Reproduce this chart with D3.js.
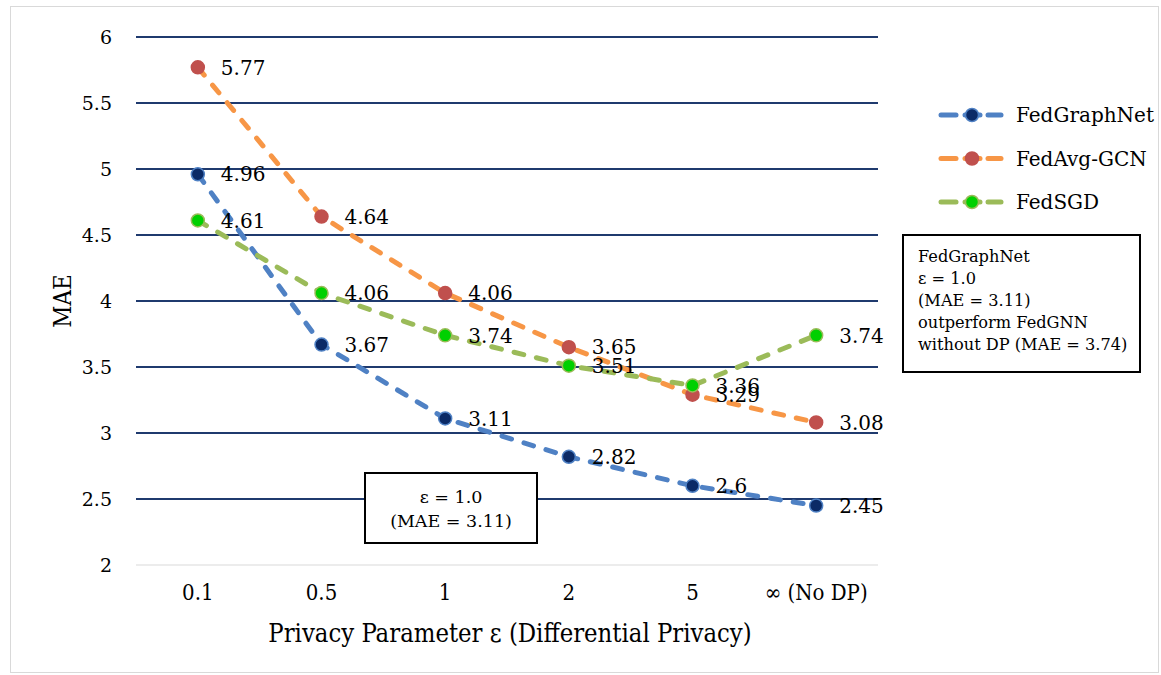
<!DOCTYPE html>
<html>
<head>
<meta charset="utf-8">
<script src="https://cdn.jsdelivr.net/npm/d3@7"></script>
<style>
  html, body { margin: 0; padding: 0; background: #fff; }
  svg { display: block; }
  text { font-family: "DejaVu Serif", Cambria, serif; fill: #000; }
</style>
</head>
<body>
<svg id="chart" width="1161" height="675"></svg>
<script>
// Categories along the x axis (privacy budget ε)
const categories = ["0.1", "0.5", "1", "2", "5", "∞ (No DP)"];

// MAE per model at each ε
const fedGraphNet = [4.96, 3.67, 3.11, 2.82, 2.6, 2.45];
const fedAvgGCN   = [5.77, 4.64, 4.06, 3.65, 3.29, 3.08];
const fedSGD      = [4.61, 4.06, 3.74, 3.51, 3.36, 3.74];

const seriesNames = ["FedGraphNet", "FedAvg-GCN", "FedSGD"];
const yTicks = [2, 2.5, 3, 3.5, 4, 4.5, 5, 5.5, 6];

const series = [
  { name: seriesNames[0], values: fedGraphNet, line: "#4f81c4", fill: "#0b2a66", stroke: "#4f81c4" },
  { name: seriesNames[1], values: fedAvgGCN,   line: "#f79646", fill: "#c0504d", stroke: "#c0504d" },
  { name: seriesNames[2], values: fedSGD,      line: "#9bbb59", fill: "#00d000", stroke: "#9bbb59" }
];

const condensed = "DejaVu Serif Condensed, DejaVu Serif";
const svg = d3.select("#chart");

// outer frame
svg.append("rect")
  .attr("x", 10.5).attr("y", 6.5).attr("width", 1148).attr("height", 666)
  .attr("fill", "#fff").attr("stroke", "#d9d9d9").attr("stroke-width", 1);

const plot = { left: 136, right: 878, top: 37, bottom: 565 };

const x = d3.scaleBand().domain(categories).range([plot.left, plot.right]);
const y = d3.scaleLinear().domain([2, 6]).range([plot.bottom, plot.top]);
const cx = c => x(c) + x.bandwidth() / 2;

// horizontal gridlines
const grid = svg.append("g");
grid.selectAll("line").data(yTicks.filter(t => t > 2)).join("line")
  .attr("x1", plot.left).attr("x2", plot.right)
  .attr("y1", d => y(d)).attr("y2", d => y(d))
  .attr("stroke", "#1f3a6e").attr("stroke-width", 2);
// baseline
grid.append("line")
  .attr("x1", plot.left).attr("x2", plot.right)
  .attr("y1", y(2)).attr("y2", y(2))
  .attr("stroke", "#d9d9d9").attr("stroke-width", 1);

// y axis labels
const yAxis = svg.append("g").attr("transform", `translate(${plot.left - 24},0)`)
  .call(d3.axisLeft(y).tickValues(yTicks).tickSize(0).tickPadding(0).tickFormat(d3.format("")));
yAxis.select(".domain").remove();
yAxis.selectAll("text").attr("font-size", 19).attr("font-family", "DejaVu Serif").attr("fill", "#000");

// x axis labels
const xAxis = svg.append("g").attr("transform", `translate(0,${plot.bottom + 19})`)
  .call(d3.axisBottom(x).tickSize(0).tickPadding(0));
xAxis.select(".domain").remove();
xAxis.selectAll("text").attr("font-size", 22).attr("font-family", condensed)
  .attr("font-stretch", "condensed").attr("fill", "#000").attr("dy", "0.71em");

// axis titles
svg.append("text")
  .attr("x", 510).attr("y", 642)
  .attr("text-anchor", "middle").attr("font-size", 25.4)
  .attr("font-family", condensed).attr("font-stretch", "condensed")
  .text("Privacy Parameter ε (Differential Privacy)");
svg.append("text")
  .attr("transform", `translate(71,${(plot.top + plot.bottom) / 2}) rotate(-90)`)
  .attr("text-anchor", "middle").attr("font-size", 24)
  .attr("font-family", condensed).attr("font-stretch", "condensed")
  .text("MAE");

// lines, markers and value labels
const line = d3.line().x((d, i) => cx(categories[i])).y(d => y(d));
const dash = "10,13";

series.forEach(s => {
  const g = svg.append("g");
  g.append("path").datum(s.values)
    .attr("d", line).attr("fill", "none")
    .attr("stroke", s.line).attr("stroke-width", 5)
    .attr("stroke-dasharray", dash).attr("stroke-linecap", "round");
  g.selectAll("circle").data(s.values).join("circle")
    .attr("cx", (d, i) => cx(categories[i])).attr("cy", d => y(d))
    .attr("r", 6.5).attr("fill", s.fill)
    .attr("stroke", s.stroke).attr("stroke-width", 1.5);
  g.selectAll("text").data(s.values).join("text")
    .attr("x", (d, i) => cx(categories[i]) + 23).attr("y", d => y(d))
    .attr("dy", "0.36em").attr("font-size", 20)
    .text(d => d);
});

// legend
const legend = svg.append("g").attr("transform", "translate(938,115)");
series.forEach((s, i) => {
  const row = legend.append("g").attr("transform", `translate(0,${i * 43.5})`);
  [[3, 18], [27, 42], [50, 63]].forEach(([a, b]) => {
    row.append("line").attr("x1", a).attr("x2", b).attr("y1", 0).attr("y2", 0)
      .attr("stroke", s.line).attr("stroke-width", 5).attr("stroke-linecap", "round");
  });
  row.append("circle").attr("cx", 34).attr("cy", 0).attr("r", 6.5)
    .attr("fill", s.fill).attr("stroke", s.stroke).attr("stroke-width", 1.5);
  row.append("text").attr("x", 78).attr("y", 0).attr("dy", "0.36em")
    .attr("font-size", 20).text(s.name);
});

// annotation on the right
const noteLines = ["FedGraphNet", "ε = 1.0", "(MAE = 3.11)", "outperform FedGNN", "without DP (MAE = 3.74)"];
const note = svg.append("g");
note.append("rect").attr("x", 903).attr("y", 235).attr("width", 237).attr("height", 137)
  .attr("fill", "#fff").attr("stroke", "#000").attr("stroke-width", 2);
note.selectAll("text").data(noteLines).join("text")
  .attr("x", 918).attr("y", (d, i) => 262 + i * 22)
  .attr("font-size", 16.2).text(d => d);

// annotation under the curves
const tagLines = ["ε = 1.0", "(MAE = 3.11)"];
const tag = svg.append("g");
tag.append("rect").attr("x", 365).attr("y", 473).attr("width", 172).attr("height", 70)
  .attr("fill", "#fff").attr("stroke", "#000").attr("stroke-width", 2);
tag.selectAll("text").data(tagLines).join("text")
  .attr("x", 451).attr("y", (d, i) => 503 + i * 24)
  .attr("text-anchor", "middle").attr("font-size", 17.5).text(d => d);
</script>
</body>
</html>
